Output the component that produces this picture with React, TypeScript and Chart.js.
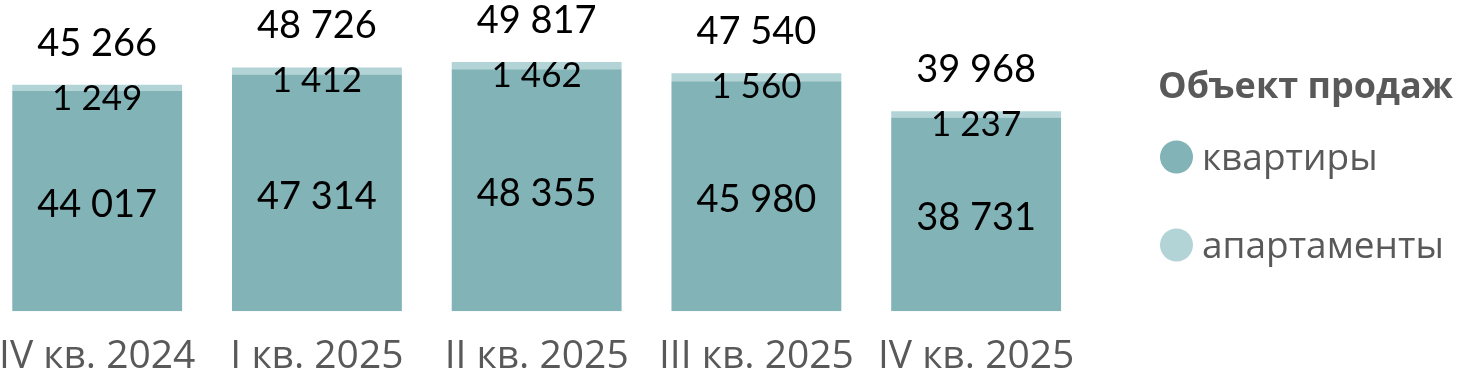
import { useEffect, useRef } from "react";
import { Chart, registerables } from "chart.js";

Chart.register(...registerables);

const categories = ["IV кв. 2024", "I кв. 2025", "II кв. 2025", "III кв. 2025", "IV кв. 2025"];
const flats = [44017, 47314, 48355, 45980, 38731];
const apartments = [1249, 1412, 1462, 1560, 1237];
const totals = [45266, 48726, 49817, 47540, 39968];
const seriesNames = ["квартиры", "апартаменты"];
const seriesColors = ["#82b3b7", "#b3d4d7"];
const legendTitle = "Объект продаж";

const SHIFT = 23;

function fmt(v: number): string {
  return String(v).replace(/\B(?=(\d{3})+(?!\d))/g, " ");
}

const valueLabels = {
  id: "valueLabels",
  afterDatasetsDraw(chart: any) {
    const ctx = chart.ctx;
    ctx.save();
    ctx.fillStyle = "#000000";
    ctx.textAlign = "center";
    ctx.textBaseline = "alphabetic";
    const m0 = chart.getDatasetMeta(0);
    const m1 = chart.getDatasetMeta(1);
    m0.data.forEach((el: any, i: number) => {
      const p = el.getProps(["x", "y", "base"], true);
      ctx.font = "38px Lato";
      ctx.fillText(fmt(flats[i]), p.x, (p.y + p.base) / 2 + 16);
    });
    m1.data.forEach((el: any, i: number) => {
      const p = el.getProps(["x", "y", "base"], true);
      ctx.font = "35px Lato";
      ctx.fillText(fmt(apartments[i]), p.x, p.y + 25);
      ctx.font = "38px Lato";
      ctx.fillText(fmt(totals[i]), p.x, p.y - 29);
    });
    ctx.restore();
  },
};

const sideLegend = {
  id: "sideLegend",
  afterDraw(chart: any) {
    const ctx = chart.ctx;
    ctx.save();
    ctx.textAlign = "left";
    ctx.textBaseline = "alphabetic";
    ctx.fillStyle = "#595959";
    ctx.font = "bold 36px 'Open Sans'";
    ctx.fillText(legendTitle, 1158 + SHIFT, 98);
    const rows = [157, 245];
    chart.data.datasets.forEach((ds: any, i: number) => {
      ctx.beginPath();
      ctx.fillStyle = ds.backgroundColor;
      ctx.arc(1176.5 + SHIFT, rows[i], 16.5, 0, Math.PI * 2);
      ctx.fill();
      ctx.fillStyle = "#595959";
      ctx.font = "37px 'Open Sans'";
      ctx.fillText(ds.label, 1202 + SHIFT, rows[i] + 13);
    });
    ctx.restore();
  },
};

export default function App() {
  const ref = useRef<HTMLCanvasElement | null>(null);
  useEffect(() => {
    if (!ref.current) return;
    const chart = new Chart(ref.current, {
      type: "bar",
      data: {
        labels: categories,
        datasets: [
          { label: seriesNames[0], data: flats, backgroundColor: seriesColors[0] },
          { label: seriesNames[1], data: apartments, backgroundColor: seriesColors[1] },
        ],
      },
      options: {
        responsive: false,
        animation: false,
        layout: { padding: { left: 0, right: 374, top: 0, bottom: 0 } },
        datasets: { bar: { categoryPercentage: 1, barPercentage: 0.773 } },
        plugins: { legend: { display: false }, tooltip: { enabled: false } },
        scales: {
          x: {
            stacked: true,
            grid: { display: false, drawTicks: false },
            border: { display: false },
            ticks: { color: "#595959", font: { family: "'Open Sans'", size: 39 }, padding: 22, maxRotation: 0, autoSkip: false },
          },
          y: {
            stacked: true,
            display: false,
            min: 0,
            max: 62200,
          },
        },
      },
      plugins: [valueLabels, sideLegend],
    });
    return () => chart.destroy();
  }, []);
  return (
    <div style={{ position: "absolute", left: -SHIFT, top: 0, width: 1483, height: 402, background: "#fff" }}>
      <canvas ref={ref} width={1483} height={402} style={{ display: "block" }} />
    </div>
  );
}
